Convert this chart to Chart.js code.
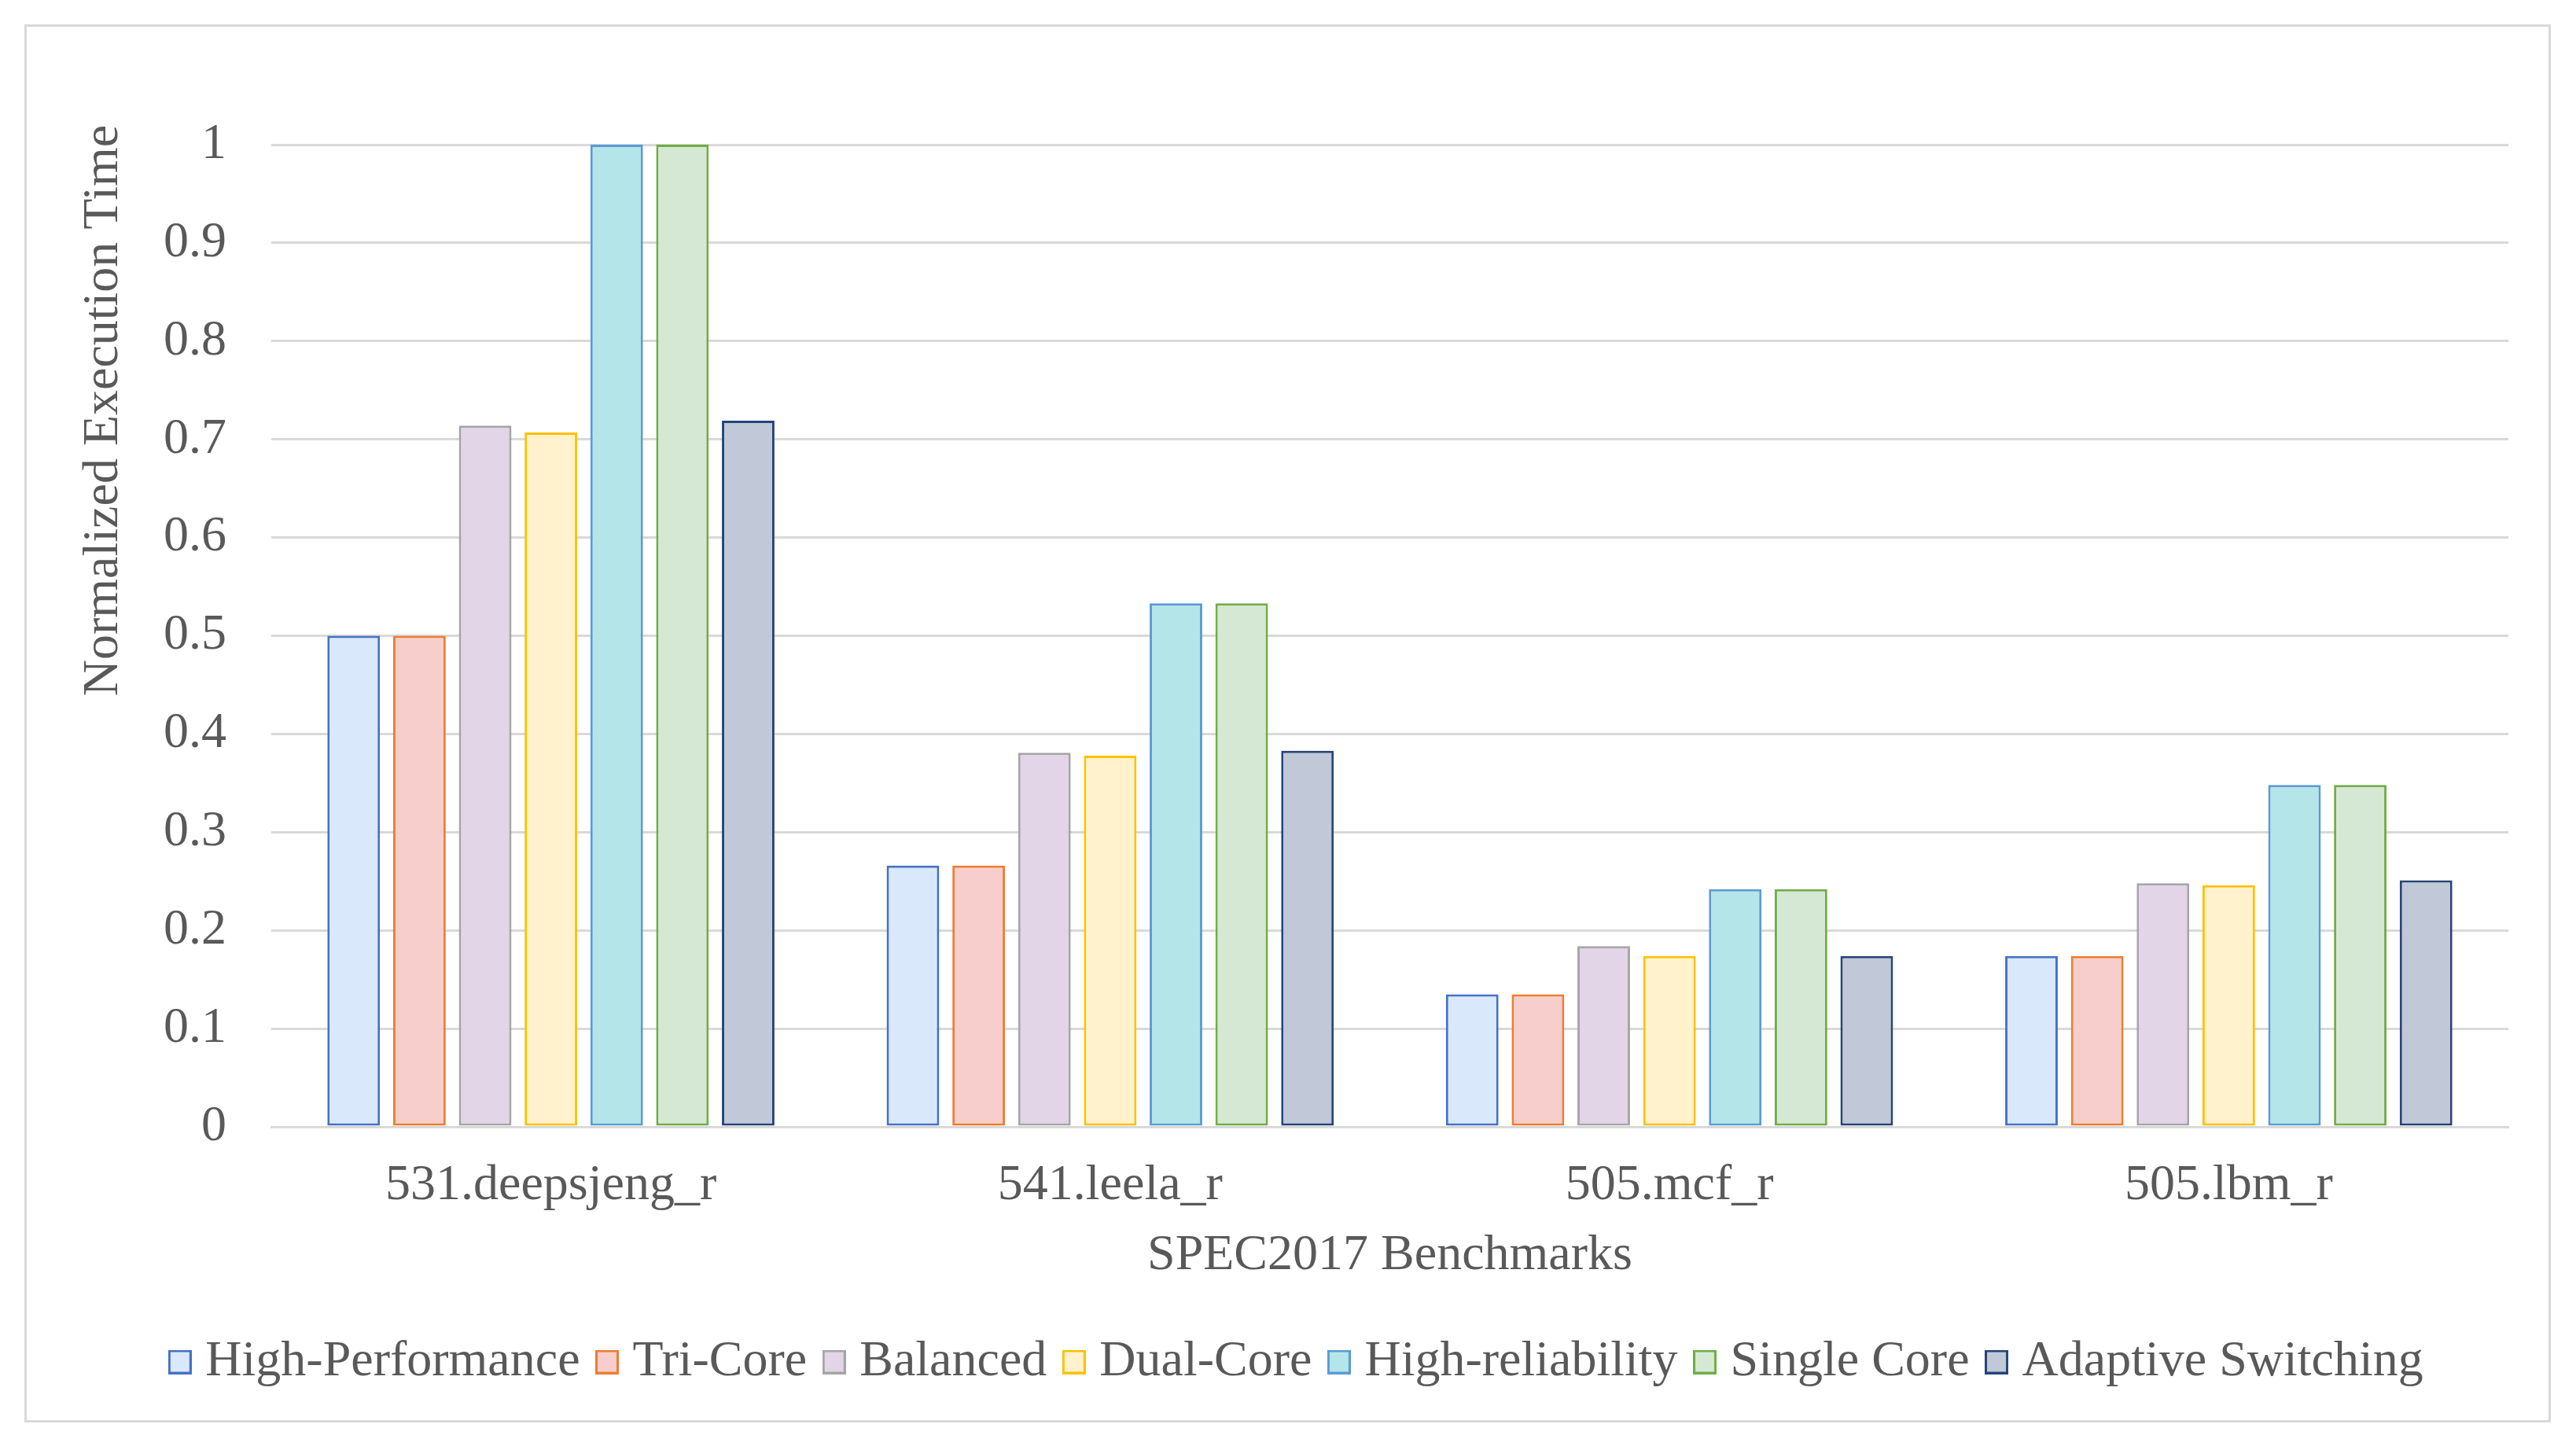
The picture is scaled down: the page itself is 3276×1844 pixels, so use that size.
<!DOCTYPE html>
<html lang="en">
<head>
<meta charset="UTF-8">
<title>Normalized Execution Time</title>
<script src="https://cdn.jsdelivr.net/npm/chart.js"></script>
<style>
    body {
        margin: 0;
        background-color: #ffffff;
    }
    .chart-box {
        position: absolute;
        left: 31px;
        top: 31px;
        width: 3213px;
        height: 1778px;
        border: 3px solid #d9d9d9;
        box-sizing: border-box;
    }
</style>
</head>
<body>

<div class="chart-box"><canvas id="myChart"></canvas></div>

<script>
    // Data
    const benchmarks = ['531.deepsjeng_r', '541.leela_r', '505.mcf_r', '505.lbm_r'];
    const highPerformance   = [0.500, 0.266, 0.135, 0.174];
    const triCore           = [0.500, 0.266, 0.135, 0.174];
    const balanced          = [0.714, 0.381, 0.184, 0.248];
    const dualCore          = [0.707, 0.378, 0.174, 0.246];
    const highReliability   = [1.000, 0.533, 0.242, 0.348];
    const singleCore        = [1.000, 0.533, 0.242, 0.348];
    const adaptiveSwitching = [0.719, 0.383, 0.174, 0.251];

    const seriesNames = ['High-Performance', 'Tri-Core', 'Balanced', 'Dual-Core',
                         'High-reliability', 'Single Core', 'Adaptive Switching'];
    const seriesValues = [highPerformance, triCore, balanced, dualCore,
                          highReliability, singleCore, adaptiveSwitching];

    const fills   = ['#dae8fc', '#f8cecc', '#e1d5e7', '#fff2cc', '#b4e5e8', '#d5e8d4', '#c1c8d8'];
    const borders = ['#4472c4', '#ed7d31', '#a5a5a5', '#ffc000', '#5b9bd5', '#70ad47', '#264478'];

    const textColor = '#595959';
    const gridColor = '#d9d9d9';
    const fontFamily = "'Liberation Serif', 'Times New Roman', serif";

    // small swatches for the legend (drawn as point style so the text gap is tighter)
    function makeSwatch(fill, stroke) {
        const c = document.createElement('canvas');
        c.width = 30;
        c.height = 31;
        const g = c.getContext('2d');
        g.fillStyle = fill;
        g.fillRect(0, 0, 30, 31);
        g.strokeStyle = stroke;
        g.lineWidth = 3;
        g.strokeRect(1.5, 1.5, 27, 28);
        return c;
    }
    const swatches = fills.map((f, i) => makeSwatch(f, borders[i]));

    // y axis title is drawn by hand so it sits a bit above the axis middle, like the original
    const yTitlePlugin = {
        id: 'yTitle',
        afterDraw(chart) {
            const c = chart.ctx;
            c.save();
            c.translate(98, 488);
            c.rotate(-Math.PI / 2);
            c.font = '64px ' + fontFamily;
            c.fillStyle = textColor;
            c.textAlign = 'center';
            c.textBaseline = 'middle';
            c.fillText('Normalized Execution Time', 0, 0);
            c.restore();
        }
    };

    const ctx = document.getElementById('myChart').getContext('2d');

    const myChart = new Chart(ctx, {
        type: 'bar',
        data: {
            labels: benchmarks,
            datasets: seriesNames.map((name, i) => ({
                label: name,
                data: seriesValues[i],
                backgroundColor: fills[i],
                borderColor: borders[i],
                borderWidth: 3,
                borderSkipped: false,
                categoryPercentage: 0.823,
                barPercentage: 0.8
            }))
        },
        options: {
            responsive: true,
            maintainAspectRatio: false,
            animation: false,
            devicePixelRatio: 1,
            layout: {
                // extra left padding only nudges the legend; y scale width is fixed below
                padding: { left: 86, right: 51, top: 150, bottom: 32 }
            },
            plugins: {
                tooltip: { enabled: false },
                legend: {
                    position: 'bottom',
                    labels: {
                        usePointStyle: true,
                        pointStyleWidth: 1,
                        padding: 34,
                        color: textColor,
                        font: { family: fontFamily, size: 64 },
                        generateLabels(chart) {
                            const items = Chart.defaults.plugins.legend.labels.generateLabels(chart);
                            items.forEach((item, i) => { item.pointStyle = swatches[i]; });
                            return items;
                        }
                    }
                }
            },
            scales: {
                x: {
                    afterFit(scale) {
                        scale.height = 233;
                    },
                    grid: { display: false, drawTicks: false },
                    border: { display: true, color: gridColor, width: 3 },
                    ticks: {
                        color: textColor,
                        padding: 37,
                        font: { family: fontFamily, size: 64 }
                    },
                    title: {
                        display: true,
                        text: 'SPEC2017 Benchmarks',
                        color: textColor,
                        padding: { top: 9, bottom: 30 },
                        font: { family: fontFamily, size: 64 }
                    }
                },
                y: {
                    min: 0,
                    max: 1,
                    afterFit(scale) {
                        scale.width = 225;
                    },
                    grid: { color: gridColor, lineWidth: 3, drawTicks: false },
                    border: { display: false },
                    ticks: {
                        stepSize: 0.1,
                        color: textColor,
                        padding: 57,
                        font: { family: fontFamily, size: 64 },
                        callback: (value) => String(Math.round(value * 10) / 10)
                    }
                }
            }
        },
        plugins: [yTitlePlugin]
    });
</script>

</body>
</html>
